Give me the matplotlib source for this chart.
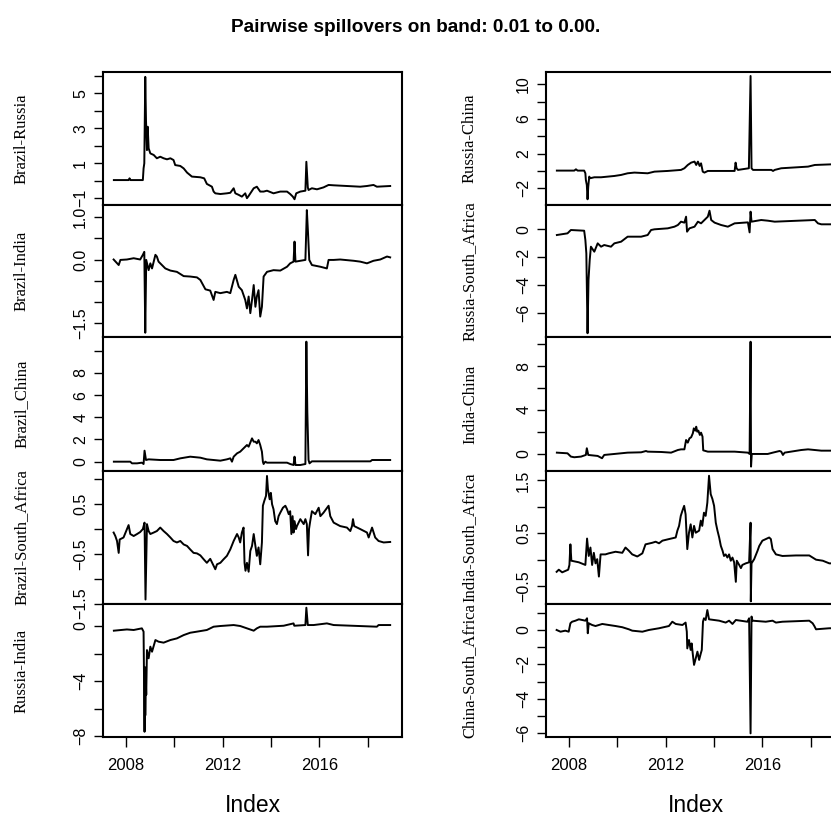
import matplotlib.pyplot as plt

plt.rcParams['font.family'] = ['Liberation Sans', 'DejaVu Sans']

# values: (decimal year, spillover)
br_ru = [(2007.49, 0.03), (2008.10, 0.03), (2008.14, 0.13), (2008.18, 0.03), (2008.69, 0.03), (2008.72, 0.70),
         (2008.75, 0.99), (2008.79, 5.95), (2008.82, 3.47), (2008.86, 1.75), (2008.89, 3.09), (2008.93, 1.85),
         (2009.00, 1.56), (2009.14, 1.47), (2009.27, 1.28), (2009.41, 1.37), (2009.55, 1.28), (2009.69, 1.22),
         (2009.83, 1.28), (2009.96, 1.18), (2010.03, 0.89), (2010.24, 0.84), (2010.38, 0.70), (2010.52, 0.46),
         (2010.72, 0.23), (2011.07, 0.19), (2011.23, 0.13), (2011.34, -0.19), (2011.55, -0.35), (2011.62, -0.63),
         (2011.69, -0.73), (2011.90, -0.77), (2012.17, -0.73), (2012.31, -0.70), (2012.45, -0.44), (2012.52, -0.73),
         (2012.66, -0.82), (2012.79, -0.92), (2012.93, -0.73), (2013.00, -1.01), (2013.07, -0.88), (2013.28, -0.44),
         (2013.41, -0.35), (2013.55, -0.63), (2013.69, -0.63), (2013.83, -0.58), (2014.10, -0.73), (2014.38, -0.63),
         (2014.66, -0.63), (2014.79, -0.77), (2014.90, -0.92), (2014.97, -1.07), (2015.04, -0.73), (2015.21, -0.63),
         (2015.42, -0.58), (2015.46, 1.08), (2015.52, -0.39), (2015.55, -0.54), (2015.69, -0.44), (2015.90, -0.50),
         (2016.17, -0.39), (2016.38, -0.25), (2016.59, -0.27), (2017.14, -0.31), (2017.69, -0.35), (2017.97, -0.31),
         (2018.24, -0.25), (2018.38, -0.35), (2018.93, -0.31)]

br_in = [(2007.48, 0.0), (2007.69, -0.13), (2007.76, -0.01), (2008.03, 0.0), (2008.31, 0.03), (2008.58, 0.0),
         (2008.69, 0.11), (2008.75, 0.18), (2008.79, -1.72), (2008.83, -0.01), (2008.93, -0.25), (2009.00, -0.09),
         (2009.07, -0.21), (2009.21, 0.11), (2009.27, 0.07), (2009.34, -0.05), (2009.48, -0.13), (2009.62, -0.21),
         (2009.83, -0.26), (2010.10, -0.29), (2010.38, -0.39), (2010.65, -0.40), (2010.93, -0.42), (2011.07, -0.48),
         (2011.28, -0.70), (2011.48, -0.73), (2011.62, -0.95), (2011.69, -0.76), (2011.90, -0.79), (2012.17, -0.76),
         (2012.31, -0.79), (2012.45, -0.48), (2012.52, -0.36), (2012.66, -0.64), (2012.79, -0.72), (2012.93, -0.95),
         (2013.00, -1.15), (2013.07, -0.87), (2013.14, -1.26), (2013.21, -0.95), (2013.28, -0.60), (2013.35, -1.11),
         (2013.41, -0.87), (2013.48, -0.72), (2013.55, -1.34), (2013.62, -1.11), (2013.69, -0.40), (2013.83, -0.29),
         (2014.10, -0.25), (2014.38, -0.26), (2014.66, -0.17), (2014.79, -0.09), (2014.93, -0.05), (2014.97, 0.42),
         (2015.01, -0.05), (2015.21, -0.03), (2015.42, -0.01), (2015.48, 1.16), (2015.53, 0.61), (2015.58, -0.01),
         (2015.69, -0.13), (2016.04, -0.17), (2016.31, -0.21), (2016.38, -0.01), (2016.59, -0.01), (2016.86, 0.0),
         (2017.42, -0.03), (2017.69, -0.05), (2017.97, -0.09), (2018.24, -0.03), (2018.52, 0.0), (2018.80, 0.07),
         (2018.93, 0.05)]

br_cn = [(2007.49, 0.0), (2008.17, 0.0), (2008.24, -0.15), (2008.45, -0.15), (2008.65, -0.09), (2008.72, -0.21),
         (2008.76, 0.99), (2008.82, 0.15), (2008.93, 0.21), (2009.41, 0.15), (2009.96, 0.15), (2010.24, 0.30),
         (2010.65, 0.45), (2011.07, 0.36), (2011.34, 0.21), (2011.62, 0.15), (2011.90, 0.09), (2012.17, 0.21),
         (2012.31, 0.30), (2012.38, 0.0), (2012.45, 0.45), (2012.59, 0.75), (2012.72, 0.90), (2012.86, 1.20),
         (2013.00, 1.50), (2013.07, 1.35), (2013.21, 2.10), (2013.28, 1.80), (2013.35, 1.80), (2013.41, 1.65),
         (2013.48, 1.95), (2013.55, 1.50), (2013.62, 0.90), (2013.66, 0.0), (2013.69, -0.21), (2013.76, 0.0),
         (2013.83, -0.09), (2014.66, -0.09), (2014.79, -0.21), (2014.93, -0.30), (2014.97, 0.45), (2015.01, -0.30),
         (2015.21, -0.30), (2015.42, -0.21), (2015.46, 10.81), (2015.50, 4.48), (2015.55, 0.15), (2015.59, -0.15),
         (2015.69, 0.03), (2018.11, 0.03), (2018.18, 0.15), (2018.93, 0.15)]

br_sa = [(2007.48, -0.07), (2007.55, -0.14), (2007.62, -0.24), (2007.69, -0.48), (2007.73, -0.21), (2007.89, -0.17),
         (2008.10, 0.08), (2008.17, -0.10), (2008.31, -0.14), (2008.45, -0.10), (2008.58, -0.06), (2008.69, 0.0),
         (2008.76, 0.13), (2008.80, -1.42), (2008.86, 0.10), (2008.93, -0.04), (2009.00, -0.10), (2009.14, -0.07),
         (2009.27, -0.04), (2009.41, 0.03), (2009.55, -0.04), (2009.69, -0.10), (2009.83, -0.17), (2009.96, -0.24),
         (2010.10, -0.27), (2010.24, -0.24), (2010.38, -0.31), (2010.52, -0.34), (2010.65, -0.41), (2010.79, -0.48),
         (2010.93, -0.49), (2011.07, -0.53), (2011.21, -0.61), (2011.34, -0.68), (2011.48, -0.60), (2011.62, -0.74),
         (2011.69, -0.81), (2011.76, -0.71), (2011.90, -0.68), (2012.03, -0.61), (2012.17, -0.54), (2012.31, -0.41),
         (2012.45, -0.24), (2012.59, -0.10), (2012.66, -0.17), (2012.72, -0.27), (2012.79, -0.07), (2012.86, 0.03),
         (2012.90, -0.68), (2012.94, -0.84), (2013.00, -0.68), (2013.07, -0.86), (2013.14, -0.44), (2013.21, -0.34),
         (2013.28, -0.10), (2013.35, -0.34), (2013.41, -0.54), (2013.48, -0.37), (2013.55, -0.71), (2013.62, -0.27),
         (2013.66, 0.47), (2013.72, 0.57), (2013.79, 0.67), (2013.83, 1.07), (2013.87, 0.80), (2013.94, 0.60),
         (2013.99, 0.73), (2014.04, 0.50), (2014.10, 0.40), (2014.17, 0.16), (2014.24, 0.10), (2014.31, 0.26),
         (2014.38, 0.33), (2014.49, 0.43), (2014.59, 0.47), (2014.66, 0.40), (2014.73, 0.30), (2014.79, 0.36),
         (2014.84, -0.10), (2014.89, 0.26), (2014.93, -0.07), (2014.97, 0.16), (2015.03, 0.0), (2015.07, 0.06),
         (2015.21, 0.20), (2015.35, 0.10), (2015.42, 0.20), (2015.48, 0.10), (2015.53, -0.53), (2015.57, 0.0),
         (2015.62, 0.16), (2015.69, 0.36), (2015.83, 0.30), (2015.97, 0.43), (2016.04, 0.26), (2016.17, 0.33),
         (2016.38, 0.47), (2016.45, 0.26), (2016.59, 0.13), (2016.86, 0.06), (2017.14, 0.03), (2017.28, -0.04),
         (2017.35, 0.06), (2017.39, 0.20), (2017.44, 0.06), (2017.69, 0.0), (2017.97, -0.07), (2018.04, -0.17),
         (2018.18, 0.03), (2018.31, -0.17), (2018.45, -0.24), (2018.66, -0.27), (2018.93, -0.26)]

ru_in = [(2007.49, -0.34), (2008.03, -0.25), (2008.31, -0.29), (2008.65, -0.17), (2008.72, -0.41), (2008.76, -7.69),
         (2008.78, -3.0), (2008.79, -6.5), (2008.81, -3.8), (2008.83, -5.0), (2008.86, -1.75), (2008.93, -2.35),
         (2009.00, -1.5), (2009.07, -1.87), (2009.21, -1.02), (2009.34, -1.14), (2009.55, -1.21), (2009.83, -1.02),
         (2010.10, -0.90), (2010.38, -0.66), (2010.65, -0.49), (2010.93, -0.41), (2011.34, -0.29), (2011.62, -0.05),
         (2011.90, 0.0), (2012.45, 0.07), (2012.72, 0.0), (2013.00, -0.17), (2013.28, -0.34), (2013.41, -0.17),
         (2013.55, -0.05), (2013.83, -0.05), (2014.52, 0.02), (2014.93, 0.19), (2014.96, 0.02), (2015.42, 0.07),
         (2015.46, 1.33), (2015.52, 0.07), (2015.76, 0.07), (2016.31, 0.19), (2016.59, 0.07), (2018.38, -0.05),
         (2018.45, 0.07), (2018.93, 0.07)]

ru_cn = [(2007.49, 0.04), (2008.21, 0.04), (2008.28, 0.19), (2008.35, 0.04), (2008.62, 0.04), (2008.67, -0.27),
         (2008.69, -1.04), (2008.73, -1.62), (2008.76, -3.27), (2008.79, -1.81), (2008.83, -0.65), (2008.87, -0.84),
         (2009.04, -0.73), (2009.32, -0.73), (2009.87, -0.58), (2010.15, -0.46), (2010.42, -0.27), (2010.70, -0.19),
         (2011.25, -0.27), (2011.53, -0.08), (2012.08, 0.0), (2012.63, 0.12), (2012.77, 0.31), (2012.91, 0.69),
         (2013.05, 0.96), (2013.19, 1.08), (2013.26, 0.69), (2013.33, 1.08), (2013.40, 0.58), (2013.46, 0.88),
         (2013.53, -0.08), (2013.60, -0.19), (2013.74, 0.0), (2014.85, 0.0), (2014.89, 0.96), (2014.93, 0.31),
         (2014.99, 0.12), (2015.44, 0.31), (2015.51, 10.96), (2015.55, 0.31), (2015.61, 0.12), (2016.37, 0.12),
         (2016.44, 0.0), (2016.51, 0.12), (2016.78, 0.31), (2017.89, 0.50), (2018.17, 0.69), (2018.93, 0.77)]

ru_sa = [(2007.49, -0.41), (2007.93, -0.29), (2008.07, -0.05), (2008.62, -0.10), (2008.67, -0.77), (2008.71, -1.73),
         (2008.76, -7.48), (2008.80, -3.65), (2008.85, -2.2), (2008.90, -1.25), (2009.04, -1.61), (2009.18, -1.01),
         (2009.32, -1.25), (2009.45, -1.13), (2009.73, -1.25), (2009.87, -1.01), (2010.15, -0.89), (2010.42, -0.53),
         (2010.98, -0.53), (2011.25, -0.41), (2011.39, -0.05), (2011.53, 0.0), (2012.08, 0.07), (2012.36, 0.19),
         (2012.50, 0.31), (2012.63, 0.55), (2012.77, 0.48), (2012.84, 0.91), (2012.88, -0.17), (2012.98, 0.07),
         (2013.19, 0.19), (2013.33, 0.55), (2013.46, 0.43), (2013.60, 0.67), (2013.74, 0.91), (2013.81, 1.34),
         (2013.88, 0.67), (2014.02, 0.48), (2014.29, 0.31), (2014.57, 0.19), (2014.85, 0.43), (2015.40, 0.50),
         (2015.47, -0.22), (2015.51, 1.27), (2015.55, 0.55), (2015.95, 0.67), (2016.23, 0.62), (2016.51, 0.55),
         (2018.17, 0.67), (2018.30, 0.43), (2018.44, 0.36), (2018.93, 0.36)]

in_cn = [(2007.49, 0.12), (2007.93, 0.06), (2008.07, -0.24), (2008.21, -0.30), (2008.49, -0.24), (2008.69, -0.09),
         (2008.73, 0.52), (2008.79, -0.09), (2009.18, -0.18), (2009.36, -0.39), (2009.45, -0.09), (2009.87, 0.0),
         (2010.42, 0.12), (2010.98, 0.15), (2011.18, 0.27), (2011.25, 0.21), (2011.81, 0.18), (2012.22, 0.12),
         (2012.50, 0.36), (2012.63, 0.42), (2012.77, 0.42), (2012.84, 1.27), (2012.91, 1.03), (2012.98, 1.42),
         (2013.05, 1.52), (2013.12, 1.88), (2013.16, 2.33), (2013.22, 2.12), (2013.26, 2.48), (2013.30, 2.03),
         (2013.35, 2.12), (2013.41, 1.73), (2013.46, 1.94), (2013.52, 1.58), (2013.55, 0.33), (2013.74, 0.21),
         (2014.85, 0.21), (2015.40, 0.12), (2015.47, 0.0), (2015.51, 10.21), (2015.53, -1.15), (2015.56, 0.0),
         (2016.22, 0.0), (2016.43, 0.12), (2016.71, 0.27), (2016.78, 0.21), (2016.85, -0.09), (2016.92, 0.12),
         (2017.61, 0.36), (2017.89, 0.42), (2018.44, 0.30), (2018.93, 0.30)]

in_sa = [(2007.48, -0.23), (2007.57, -0.19), (2007.71, -0.24), (2007.96, -0.19), (2008.01, -0.10), (2008.05, 0.29),
         (2008.09, -0.02), (2008.40, -0.05), (2008.67, -0.10), (2008.74, 0.40), (2008.81, 0.07), (2008.88, 0.23),
         (2008.95, -0.10), (2009.02, 0.13), (2009.09, -0.07), (2009.16, 0.01), (2009.23, -0.32), (2009.30, 0.10),
         (2009.50, 0.10), (2009.64, 0.12), (2009.92, 0.15), (2010.20, 0.13), (2010.33, 0.23), (2010.47, 0.17),
         (2010.61, 0.10), (2010.82, 0.06), (2011.03, 0.12), (2011.16, 0.29), (2011.44, 0.32), (2011.58, 0.34),
         (2011.72, 0.31), (2011.86, 0.36), (2012.13, 0.39), (2012.41, 0.42), (2012.48, 0.55), (2012.55, 0.64),
         (2012.62, 0.83), (2012.69, 0.93), (2012.76, 1.02), (2012.82, 0.86), (2012.89, 0.20), (2012.96, 0.51),
         (2013.03, 0.67), (2013.10, 0.42), (2013.17, 0.64), (2013.24, 0.51), (2013.38, 0.55), (2013.45, 0.74),
         (2013.51, 0.64), (2013.58, 0.89), (2013.65, 0.83), (2013.72, 1.08), (2013.79, 1.59), (2013.86, 1.24),
         (2013.93, 1.15), (2014.00, 1.02), (2014.07, 0.70), (2014.14, 0.55), (2014.21, 0.42), (2014.28, 0.26),
         (2014.35, 0.17), (2014.41, 0.07), (2014.48, 0.10), (2014.55, 0.04), (2014.62, 0.10), (2014.69, -0.02),
         (2014.76, 0.04), (2014.83, -0.05), (2014.90, -0.42), (2014.94, -0.02), (2015.04, -0.10), (2015.11, -0.16),
         (2015.17, -0.10), (2015.31, -0.07), (2015.45, -0.05), (2015.51, 0.70), (2015.52, -0.79), (2015.55, -0.07),
         (2015.66, 0.01), (2015.80, 0.17), (2015.87, 0.26), (2016.00, 0.36), (2016.14, 0.39), (2016.28, 0.42),
         (2016.35, 0.39), (2016.42, 0.20), (2016.56, 0.10), (2016.83, 0.07), (2017.39, 0.08), (2017.94, 0.08),
         (2018.08, 0.04), (2018.22, 0.00), (2018.50, -0.02), (2018.77, -0.07), (2018.93, -0.07)]

cn_sa = [(2007.48, 0.0), (2007.64, -0.10), (2007.84, -0.04), (2007.98, -0.10), (2008.05, 0.39), (2008.12, 0.48),
         (2008.26, 0.54), (2008.40, 0.62), (2008.54, 0.58), (2008.67, 0.54), (2008.74, 0.68), (2008.77, -0.19),
         (2008.81, 0.39), (2008.95, 0.29), (2009.09, 0.23), (2009.37, 0.35), (2009.64, 0.29), (2009.92, 0.23),
         (2010.20, 0.16), (2010.47, 0.04), (2010.61, -0.04), (2011.03, -0.10), (2011.30, 0.0), (2011.72, 0.10),
         (2012.13, 0.23), (2012.27, 0.48), (2012.41, 0.35), (2012.69, 0.29), (2012.82, 0.43), (2012.87, -0.10),
         (2012.89, -1.07), (2012.96, -0.58), (2013.03, -1.16), (2013.07, -0.78), (2013.13, -1.55), (2013.17, -2.03),
         (2013.24, -1.65), (2013.31, -1.26), (2013.38, -1.74), (2013.45, -1.36), (2013.49, -1.16), (2013.54, 0.48),
         (2013.58, 0.68), (2013.65, 0.58), (2013.72, 1.16), (2013.79, 0.62), (2014.21, 0.54), (2014.48, 0.43),
         (2014.62, 0.54), (2014.76, 0.35), (2014.90, 0.58), (2015.38, 0.48), (2015.45, 0.68), (2015.51, -6.01),
         (2015.55, 0.78), (2015.59, 0.54), (2016.14, 0.48), (2016.42, 0.54), (2016.56, 0.43), (2016.83, 0.48),
         (2017.94, 0.54), (2018.08, 0.39), (2018.15, 0.23), (2018.22, 0.04), (2018.77, 0.10), (2018.93, 0.10)]

year_ticks = [2008, 2010, 2012, 2014, 2016, 2018]
year_labels = ['2008', '', '2012', '', '2016', '']

MINUS = '\u2212'


def fmt(v, dec):
    s = f"{abs(v):.{dec}f}"
    return MINUS + s if v < 0 else s


# series, name, ylim, ticks, labelled ticks, decimals
left = [
    (br_ru, 'Brazil-Russia', (-1.40, 6.23), [-1, 0, 1, 2, 3, 4, 5, 6], [-1, 1, 3, 5], 0),
    (br_in, 'Brazil-India', (-1.82, 1.28), [-1.5, -1.0, -0.5, 0.0, 0.5, 1.0], [-1.5, 0.0, 1.0], 1),
    (br_cn, 'Brazil_China', (-0.84, 11.23), [0, 2, 4, 6, 8, 10], [0, 2, 4, 6, 8], 0),
    (br_sa, 'Brazil-South_Africa', (-1.51, 1.17), [-1.5, -1.0, -0.5, 0.0, 0.5, 1.0], [-1.5, -0.5, 0.5], 1),
    (ru_in, 'Russia-India', (-8.07, 1.60), [-8, -6, -4, -2, 0], [-8, -4, 0], 0),
]
right = [
    (ru_cn, 'Russia-China', (-3.93, 11.42), [-2, 0, 2, 4, 6, 8, 10], [-2, 2, 6, 10], 0),
    (ru_sa, 'Russia-South_Africa', (-7.75, 1.75), [-6, -4, -2, 0], [-6, -4, -2, 0], 0),
    (in_cn, 'India-China', (-1.55, 10.64), [0, 2, 4, 6, 8, 10], [0, 4, 8], 0),
    (in_sa, 'India-South_Africa', (-0.84, 1.68), [-0.5, 0.0, 0.5, 1.0, 1.5], [-0.5, 0.5, 1.5], 1),
    (cn_sa, 'China-South_Africa', (-6.22, 1.51), [-6, -5, -4, -3, -2, -1, 0, 1], [-6, -4, -2, 0], 0),
]

W, H = 831, 817
fig = plt.figure(figsize=(W / 100, H / 100), dpi=100)
rows = [72, 205, 337, 471, 604, 737]
axw = 299

for x0, lab_x, specs in [(103, 22, left), (546, 470, right)]:
    for i, (data, name, ylim, ticks, shown, dec) in enumerate(specs):
        top, bot = rows[i], rows[i + 1]
        ax = fig.add_axes([x0 / W, 1 - bot / H, axw / W, (bot - top) / H])
        ax.plot([p[0] for p in data], [p[1] for p in data], color='black', lw=1.4)
        ax.set_xlim(2007.04, 2019.42)
        ax.set_ylim(*ylim)
        ax.set_yticks(ticks)
        ax.set_yticklabels([fmt(t, dec) if t in shown else '' for t in ticks],
                           rotation=90, va='center', fontsize=11.5)
        ax.tick_params(axis='y', direction='out', length=6.2, width=1.0, pad=4.5)
        for s in ax.spines.values():
            s.set_linewidth(1.5)
        if i == len(specs) - 1:
            ax.set_xticks(year_ticks)
            ax.set_xticklabels(year_labels, fontsize=12)
            ax.tick_params(axis='x', direction='out', length=7.5, width=1.0, pad=7.5)
        else:
            ax.set_xticks([])
        fig.text(lab_x / W, 1 - (top + bot) / 2 / H, name, rotation=90, ha='center', va='center',
                 family='Liberation Serif', fontsize=12)
    fig.text((x0 + axw / 2) / W, 1 - 806 / H, 'Index', ha='center', va='center', fontsize=16.5)

fig.text(415.5 / W, 1 - 28 / H, 'Pairwise spillovers on band: 0.01 to 0.00.',
         ha='center', va='center', fontsize=13.7, weight='bold')

fig.savefig('out.png', dpi=100)
